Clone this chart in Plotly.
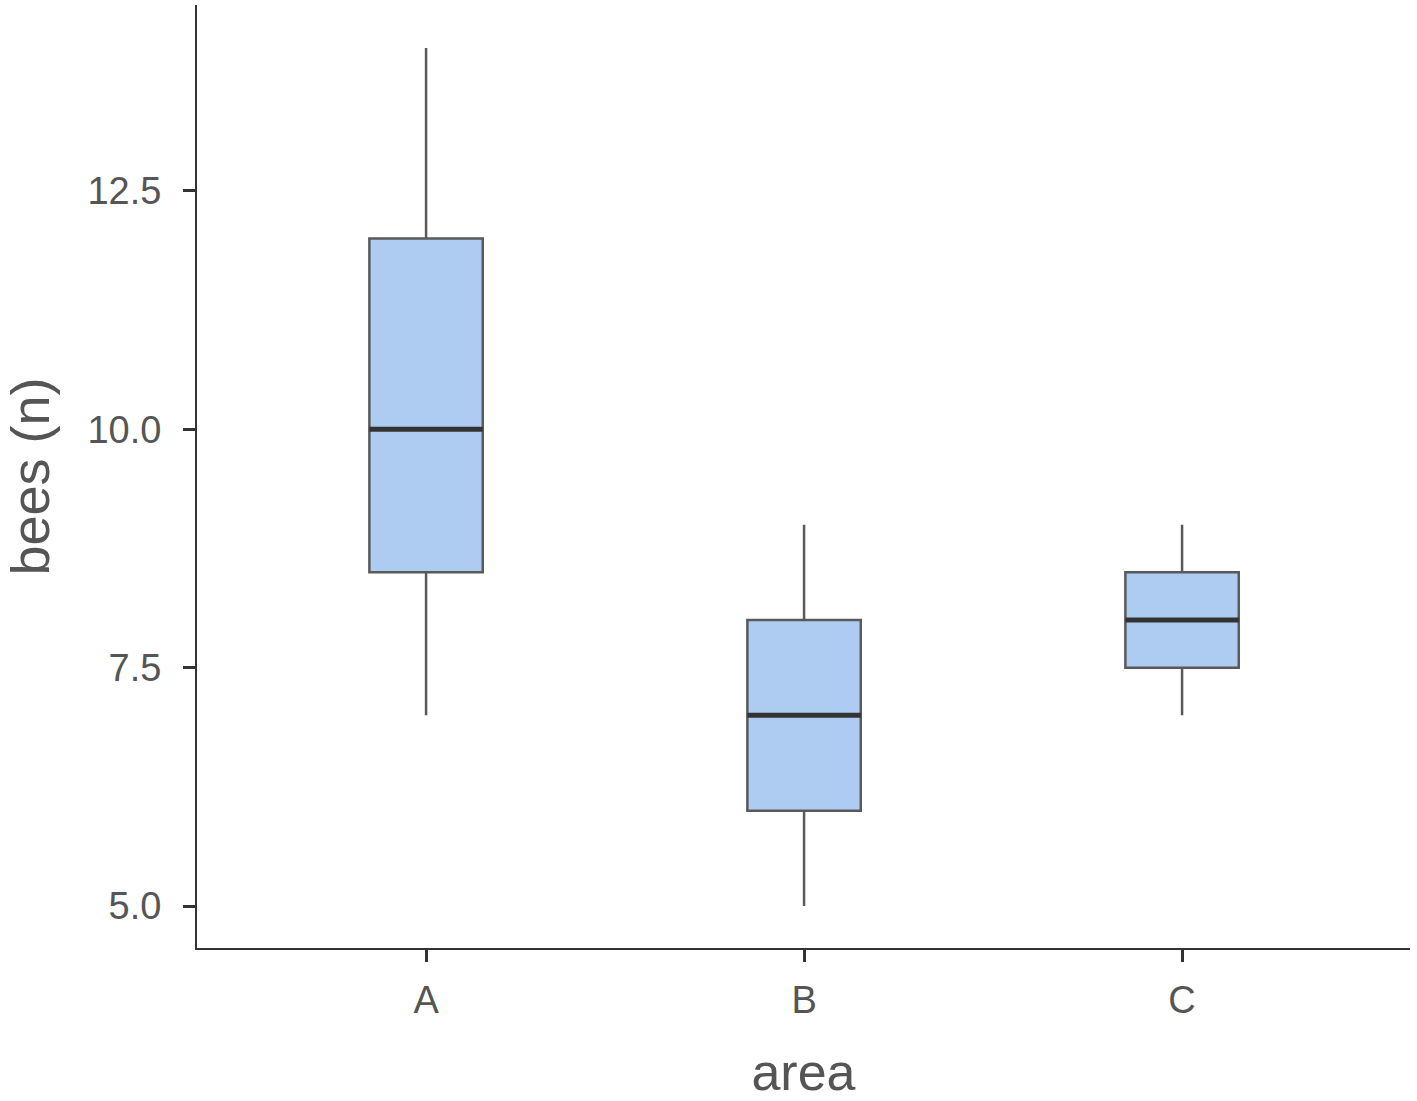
import plotly.graph_objects as go

categories = ["A", "B", "C"]
lower_whisker = [7.0, 5.0, 7.0]
q1 = [8.5, 6.0, 7.5]
median = [10.0, 7.0, 8.0]
q3 = [12.0, 8.0, 8.5]
upper_whisker = [14.0, 9.0, 9.0]
y_ticks = [5.0, 7.5, 10.0, 12.5]

BOX_W = 0.3
pos = list(range(len(categories)))

fig = go.Figure()
fig.add_trace(go.Box(
    x=pos, q1=q1, median=median, q3=q3,
    lowerfence=lower_whisker, upperfence=upper_whisker,
    width=BOX_W, whiskerwidth=0,
    fillcolor="#aecbf1",
    line=dict(color="#5a5a5a", width=2.5),
    boxpoints=False, showlegend=False, hoverinfo="skip",
))
mx, my = [], []
for i, m in zip(pos, median):
    mx += [i - BOX_W / 2, i + BOX_W / 2, None]
    my += [m, m, None]
fig.add_trace(go.Scatter(x=mx, y=my, mode="lines",
                         line=dict(color="#333333", width=5),
                         showlegend=False, hoverinfo="skip"))

font_fam = "Liberation Sans, Arial, sans-serif"
fig.update_layout(
    width=1417, height=1101,
    margin=dict(l=197, r=7, t=5, b=153),
    plot_bgcolor="white", paper_bgcolor="white",
    font=dict(family=font_fam),
)
fig.update_xaxes(
    range=[-0.606, 2.603], tickvals=pos, ticktext=categories,
    showgrid=False, zeroline=False, automargin=False,
    showline=True, linecolor="#333333", linewidth=2,
    ticks="outside", ticklen=12, tickwidth=2.5, tickcolor="#333333",
    tickfont=dict(size=38, color="#555555"),
    ticklabelstandoff=5,
    title=dict(text="area", font=dict(size=52, color="#555555"), standoff=35),
)
fig.update_yaxes(
    range=[4.56, 14.45], tickvals=y_ticks, ticktext=[f"{v:.1f}" for v in y_ticks],
    showgrid=False, zeroline=False, automargin=False,
    showline=True, linecolor="#333333", linewidth=2,
    ticks="outside", ticklen=12, tickwidth=2.5, tickcolor="#333333",
    tickfont=dict(size=38, color="#555555"),
    ticklabelstandoff=14,
    title=dict(text="bees (n)", font=dict(size=54, color="#555555"), standoff=26),
)
fig.write_html("out.html", config={"displayModeBar": False},
               post_script="document.body.style.margin='0';document.body.style.overflow='hidden';")
